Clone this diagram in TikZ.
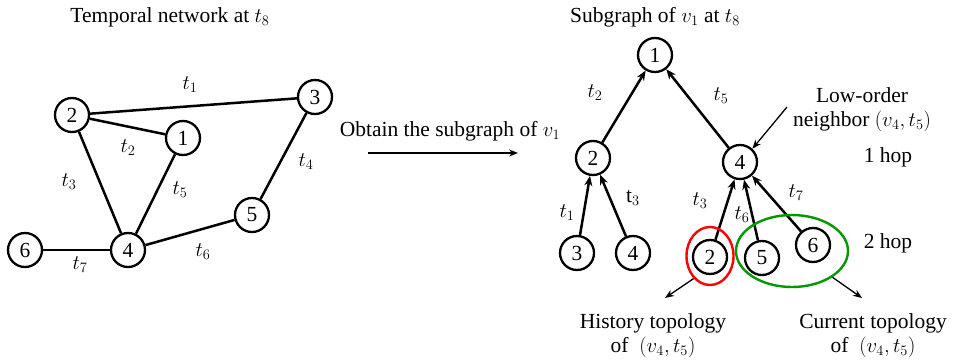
\documentclass[tikz,border=0pt]{standalone}
\usepackage{fontspec}
\setmainfont{Liberation Serif}
\usetikzlibrary{arrows.meta,shapes.geometric}

\begin{document}
\begin{tikzpicture}[x=1pt,y=-1pt,font=\fontsize{21.5}{24}\selectfont,
    vtx/.style={circle,draw,line width=2.3pt,minimum size=34pt,inner sep=0pt},
    lnk/.style={line width=2.5pt},
    arc/.style={line width=2.5pt,-{Stealth[length=10pt,width=8pt]}},
    ptr/.style={line width=1.3pt,-{Stealth[length=9pt,width=7pt]}},
    lbl/.style={inner sep=1pt}]
        \useasboundingbox (0,0) rectangle (953,362);

        % temporal network
        \node (ttl1) at (170,17) {Temporal network at $t_8$};
        \node[vtx] (g2) at (72,115) {2};
        \node[vtx] (g3) at (315,97) {3};
        \node[vtx] (g1) at (183,138) {1};
        \node[vtx] (g5) at (252,215) {5};
        \node[vtx] (g4) at (128,250) {4};
        \node[vtx] (g6) at (25,250) {6};

        \draw[lnk] (g2) -- (g3);
        \draw[lnk] (g2) -- (g1);
        \draw[lnk] (g2) -- (g4);
        \draw[lnk] (g1) -- (g4);
        \draw[lnk] (g4) -- (g5);
        \draw[lnk] (g5) -- (g3);
        \draw[lnk] (g6) -- (g4);

        \node[lbl] (e1) at (190,85) {$t_1$};
        \node[lbl] (e2) at (128,148) {$t_2$};
        \node[lbl] (e3) at (69,182) {$t_3$};
        \node[lbl] (e5) at (180,190) {$t_5$};
        \node[lbl] (e4) at (306,162) {$t_4$};
        \node[lbl] (e6) at (203,252) {$t_6$};
        \node[lbl] (e7) at (80,265) {$t_7$};

        % step between the two
        \node (obt) at (450,131) {Obtain the subgraph of $v_1$};
        \coordinate (obtS) at (368,153);
        \coordinate (obtE) at (518,153);
        \draw[ptr] (obtS) -- (obtE);

        % subgraph of v1
        \node (ttl2) at (655,17) {Subgraph of $v_1$ at $t_8$};
        \node[vtx] (r1) at (655,55) {1};
        \node[vtx] (r2) at (593,158) {2};
        \node[vtx] (r4) at (740,162) {4};
        \node[vtx] (c3) at (577,253) {3};
        \node[vtx] (c4) at (633,253) {4};
        \node[vtx] (d2) at (710,257) {2};
        \node[vtx] (d5) at (762,258) {5};
        \node[vtx] (d6) at (813,245) {6};

        \draw[arc] (r2) -- (r1);
        \draw[arc] (r4) -- (r1);
        \draw[arc] (c3) -- (r2);
        \draw[arc] (c4) -- (r2);
        \draw[arc] (d2) -- (r4);
        \draw[arc] (d5) -- (r4);
        \draw[arc] (d6) -- (r4);

        \node[lbl] (f2) at (595,93) {$t_2$};
        \node[lbl] (f5) at (721,96) {$t_5$};
        \node[lbl] (f1) at (567,213) {$t_1$};
        \node[lbl] (f3a) at (633,198) {$\mathrm{t}_3$};
        \node[lbl] (f3b) at (700,201) {$t_3$};
        \node[lbl] (f6) at (742,215) {$t_6$};
        \node[lbl] (f7) at (796,193) {$t_7$};

        \node[align=center] (low) at (862,110) {Low-order\\neighbor $(v_4,t_5)$};
        \coordinate (lowS) at (787,107);
        \draw[ptr] (lowS) -- (r4.47);
        \node (hop1) at (888,157) {1 hop};
        \node (hop2) at (888,243) {2 hop};

        \node[ellipse,draw=red,line width=2.4pt,minimum width=47pt,minimum height=58pt] (hist) at (710,256) {};
        \node[ellipse,draw=green!60!black,line width=2.4pt,minimum width=112pt,minimum height=72pt] (curr) at (792,251) {};
        \coordinate (histE) at (665,298);
        \coordinate (currE) at (862,298);
        \draw[ptr] (hist.234) -- (histE);
        \draw[ptr] (curr.327) -- (currE);

        \node[align=center] (histT) at (653,336) {History topology\\of\ \ $(v_4,t_5)$};
        \node[align=center] (currT) at (873,336) {Current topology\\of\ \ $(v_4,t_5)$};
    \end{tikzpicture}
\end{document}
